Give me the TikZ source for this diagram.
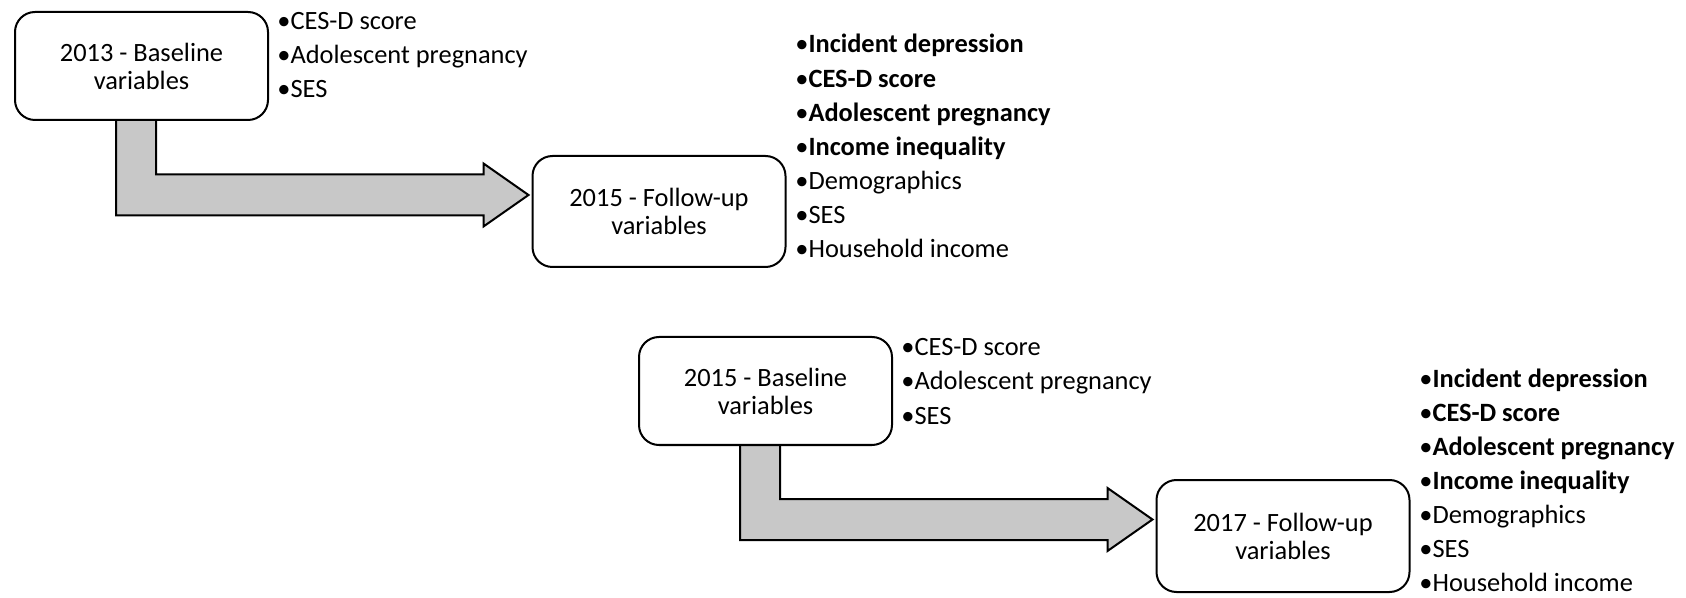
\documentclass[tikz,border=0pt]{standalone}
\usepackage{fontspec}
\setmainfont{Carlito}
\usetikzlibrary{calc}
\pgfdeclarelayer{bg}
\pgfsetlayers{bg,main}
\definecolor{arrowgray}{RGB}{200,200,200}
\tikzset{
  box/.style={draw=black, line width=1pt, rounded corners=10pt, fill=white,
    minimum width=126.5pt, align=center, inner sep=0pt,
    font=\fontsize{13.2}{14}\selectfont},
  item/.style={anchor=base west, inner sep=0pt, font=\fontsize{13.2}{16}\selectfont},
  bigarrow/.style={draw=black, line width=1pt, fill=arrowgray, line join=miter},
}
\newcommand{\bentarrow}[2]{%
  \filldraw[bigarrow] ($(#1.south west)+(142,0)$) |- ($(#2.west)+(-48,-37)$)
    -- ($(#2.west)+(-48,-48)$) -- ($(#2.west)+(-3,-16.5)$)
    -- ($(#2.west)+(-48,15)$) -- ($(#2.west)+(-48,4)$)
    -| ($(#1.south west)+(102,0)$);}
\begin{document}
\begin{tikzpicture}[x=0.5pt,y=-0.5pt]
\useasboundingbox (0,0) rectangle (1686,598);
% boxes
\node[box, minimum height=54pt] (b1) at (141.5,66) {2013 - Baseline\\variables};
\node[box, minimum height=55.5pt] (b2) at (659,211.5) {2015 - Follow-up\\variables};
\node[box, minimum height=54pt] (b3) at (765.5,391) {2015 - Baseline\\variables};
\node[box, minimum height=56pt] (b4) at (1283,536) {2017 - Follow-up\\variables};
% arrows
\begin{pgfonlayer}{bg}
\bentarrow{b1}{b2}
\bentarrow{b3}{b4}
\end{pgfonlayer}
% lists
\foreach \t [count=\i from 0] in {CES-D score, Adolescent pregnancy, SES}
  \node[item] (la\i) at (277, 30+34*\i) {•\t};
\foreach \t [count=\i from 0] in {\textbf{Incident depression}, \textbf{CES-D score}, \textbf{Adolescent pregnancy}, \textbf{Income inequality}, Demographics, SES, Household income}
  \node[item] (lb\i) at (795, 53+34.15*\i) {•\t};
\foreach \t [count=\i from 0] in {CES-D score, Adolescent pregnancy, SES}
  \node[item] (lc\i) at (901, 356+34*\i) {•\t};
\foreach \t [count=\i from 0] in {\textbf{Incident depression}, \textbf{CES-D score}, \textbf{Adolescent pregnancy}, \textbf{Income inequality}, Demographics, SES, Household income}
  \node[item] (ld\i) at (1419, 387+34.1*\i) {•\t};
\end{tikzpicture}
\end{document}
